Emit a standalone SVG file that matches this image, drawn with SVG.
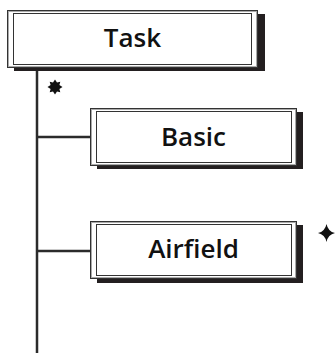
<svg xmlns="http://www.w3.org/2000/svg" width="335" height="353" viewBox="0 0 335 353">
<defs>
<style>
.shadow{fill:#231f20}
.outer{fill:#fff;stroke:#333;stroke-width:1}
.outer2{fill:none;stroke:#aaa;stroke-width:1}
.inner{fill:none;stroke:#333;stroke-width:1}
.label{font-family:"Open Sans","DejaVu Sans",sans-serif;font-weight:600;font-size:26px;fill:#111;text-anchor:middle}
.conn{stroke:#2b2b2b;stroke-width:2.5;fill:none}
.mark{fill:#111}
</style>
</defs>
<g id="connectors">
<line class="conn" x1="37" y1="68" x2="37" y2="353"/>
<line class="conn" x1="37" y1="137" x2="90" y2="137"/>
<line class="conn" x1="37" y1="251" x2="90" y2="251"/>
</g>
<g id="task">
<rect class="shadow" x="14" y="14" width="251" height="57"/>
<rect class="outer" x="7.5" y="10.5" width="250" height="57"/>
<rect class="outer2" x="8.5" y="11.5" width="248" height="55"/>
<rect class="inner" x="13.5" y="13.5" width="238" height="51"/>
<text class="label" x="132.5" y="46.5">Task</text>
</g>
<g id="basic">
<rect class="shadow" x="97" y="112" width="206" height="57"/>
<rect class="outer" x="90.5" y="108.5" width="206" height="57"/>
<rect class="outer2" x="91.5" y="109.5" width="204" height="55"/>
<rect class="inner" x="96.5" y="111.5" width="195" height="51"/>
<text class="label" x="193.5" y="146">Basic</text>
</g>
<g id="airfield">
<rect class="shadow" x="97" y="225" width="206" height="58"/>
<rect class="outer" x="90.5" y="221.5" width="206" height="57"/>
<rect class="outer2" x="91.5" y="222.5" width="204" height="55"/>
<rect class="inner" x="96.5" y="224.5" width="195" height="51"/>
<text class="label" x="193.5" y="258">Airfield</text>
</g>
<g id="marks">
<polygon class="mark" points="55,79.5 57,82.6 60.3,81.7 59.4,85 62.5,87 59.4,89 60.3,92.3 57,91.4 55,94.5 53,91.4 49.7,92.3 50.6,89 47.5,87 50.6,85 49.7,81.7 53,82.6"/>
<path class="mark" d="M326.5,224 Q328,231.5 335,233 Q328,234.5 326.5,242 Q325,234.5 318,233 Q325,231.5 326.5,224 Z"/>
</g>
</svg>
